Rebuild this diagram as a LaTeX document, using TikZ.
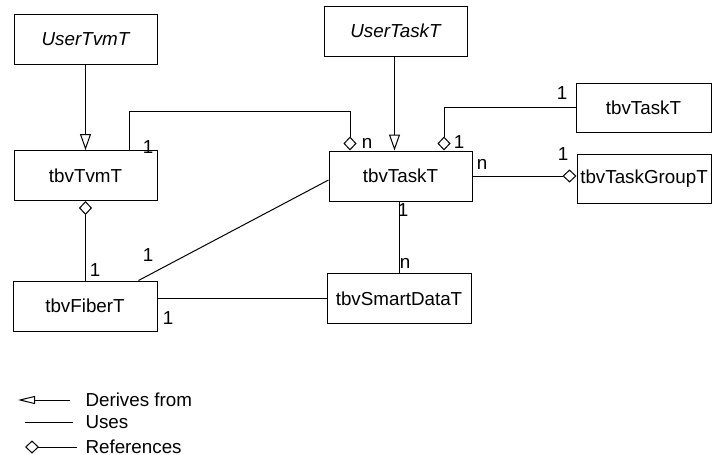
\documentclass[tikz,border=0pt]{standalone}
\usepackage{fontspec}
\setmainfont{Liberation Sans}
\usetikzlibrary{arrows.meta}
\newcommand{\diafont}{\fontsize{9.4}{11}\selectfont}

\begin{document}
\begin{tikzpicture}[x=0.5pt,y=-0.5pt,line width=0.5pt,
        every node/.style={font=\diafont},
        cls/.style={draw,minimum width=71.5pt,minimum height=25pt,inner sep=1pt},
        derives/.style={-{Triangle[open,length=8pt,width=5.5pt]}},
        refs/.style={-{Diamond[open,length=7pt,width=6.5pt]}},
        mult/.style={inner sep=0pt}]
        \useasboundingbox (0,0) rectangle (712,455);

        % Draw the classes
        \node[cls,font=\diafont\itshape] (usertvm) at (85.5,39) {UserTvmT};
        \node[cls,font=\diafont\itshape] (usertask) at (395.5,31) {UserTaskT};
        \node[cls] (tvm) at (85.5,175.5) {tbvTvmT};
        \node[cls] (task) at (400.5,176) {tbvTaskT};
        \node[cls,minimum width=67.5pt,minimum height=24.5pt] (parenttask) at (643.5,107.5) {tbvTaskT};
        \node[cls,minimum width=67pt,minimum height=24.5pt] (group) at (644,178.5) {tbvTaskGroupT};
        \node[cls,minimum width=72pt] (smart) at (399,298.5) {tbvSmartDataT};
        \node[cls,minimum width=72pt] (fiber) at (85,306) {tbvFiberT};

        % Draw the derivations
        \draw[derives] (usertvm) -- (tvm);
        \draw[derives] (usertask.south -| task.north) ++(-6,0) coordinate (uts) -- (uts |- task.north);

        % Draw the references with their bends
        \coordinate (tvmbend) at (129,111);
        \coordinate (taskbend) at (350,111);
        \coordinate (selfbend) at (444,107);
        \draw[refs] (tvm.north -| tvmbend) -- (tvmbend) -- (taskbend) -- (task.north -| taskbend);
        \draw[refs] (parenttask.west |- selfbend) -- (selfbend) -- (task.north -| selfbend);
        \draw[refs] (task.east) -- (task.east -| group.west);
        \draw[refs] (fiber.north -| tvm.south) -- (tvm.south);

        % Draw the uses
        \draw (smart.north |- task.south) -- (smart.north);
        \draw ([xshift=-9.5pt]fiber.north east) -- ([yshift=-2pt]task.west);
        \draw (smart.west -| fiber.east) -- (smart.west);

        % Multiplicities
        \node[mult] (m1) at (148,147) {1};
        \node[mult] (m2) at (367,143) {n};
        \node[mult] (m3) at (459,142) {1};
        \node[mult] (m4) at (562,93) {1};
        \node[mult] (m5) at (482,164) {n};
        \node[mult] (m6) at (563,154) {1};
        \node[mult] (m7) at (403,210) {1};
        \node[mult] (m8) at (405,263) {n};
        \node[mult] (m9) at (148,255) {1};
        \node[mult] (m10) at (95,270) {1};
        \node[mult] (m11) at (168,318) {1};

        % Legend
        \node[mult,anchor=west] (lgdderive) at (85,400) {Derives from};
        \node[mult,anchor=west] (lgduses) at (85,422) {Uses};
        \node[mult,anchor=west] (lgdrefs) at (85,447) {References};
        \draw[-{Triangle[open,length=8.5pt,width=4pt]}] ([xshift=-7.5pt]lgdderive.west) -- ++(-26pt,0);
        \draw ([xshift=-6pt]lgduses.west) -- ++(-24pt,0);
        \draw[refs] ([xshift=-4pt]lgdrefs.west) -- ++(-26pt,0);
    \end{tikzpicture}
\end{document}
